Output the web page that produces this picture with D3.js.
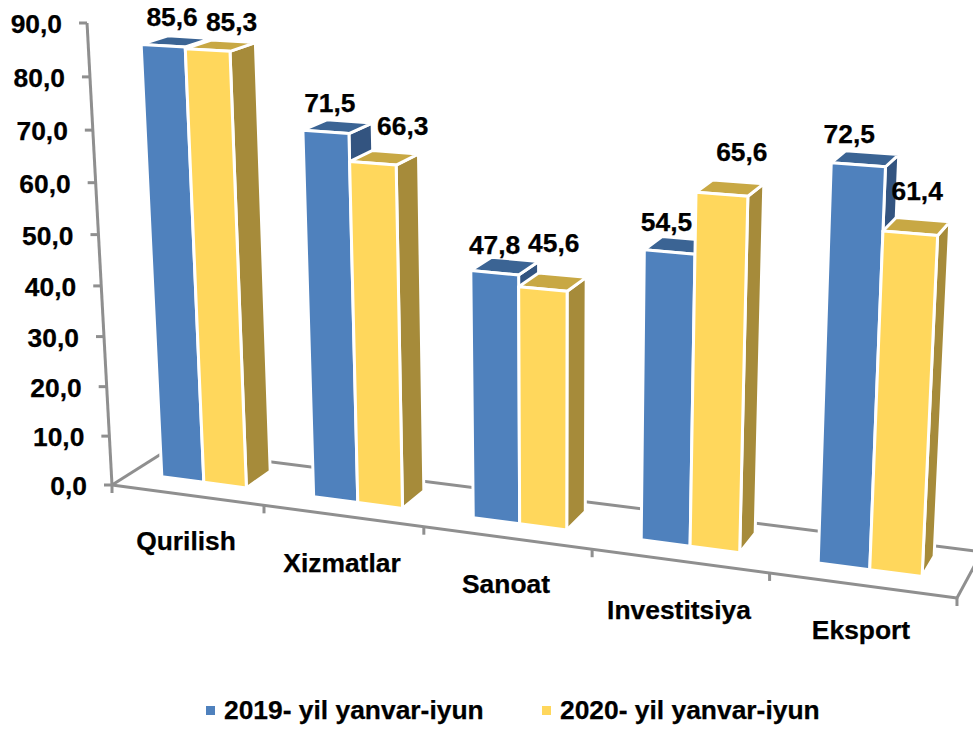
<!DOCTYPE html>
<html><head><meta charset="utf-8">
<script src="https://cdn.jsdelivr.net/npm/d3@7"></script>
<style>html,body{margin:0;padding:0;background:#fff}svg{display:block}
text{font-family:"Liberation Sans",Arial,sans-serif;font-weight:700;font-size:26.4px;fill:#000;stroke:#000;stroke-width:.25px}</style>
</head><body><svg id="c" width="973" height="729"></svg>
<script>
const categories = ["Qurilish","Xizmatlar","Sanoat","Investitsiya","Eksport"];
const seriesNames = ["2019- yil yanvar-iyun","2020- yil yanvar-iyun"];
const values2019 = [85.6,71.5,47.8,54.5,72.5];
const values2020 = [85.3,66.3,45.6,65.6,61.4];
const seriesValues = [values2019,values2020];
const valueDomain = [0,90];
// label displacement from the bar's projected top-centre
const labelShift2019 = [[9,-27],[4,-27],[0,-26],[-3,-28],[-9,-29]];
const labelShift2020 = [[24,-26],[30,-35],[11,-44],[20,-40],[7,-40]];
const labelShifts = [labelShift2019,labelShift2020];
const catLabelCentres = [[186,543],[342,565],[506,586],[679,612],[861,632]];

const palette = [
 {front:"#4f81bd",top:"#3b6494",side:"#335480"},
 {front:"#ffd75c",top:"#c8a844",side:"#a68b3a"}];
const grey="#8f8f8f";

// projective camera: (X along categories, Y value, Z depth) -> screen
const cam={a:[112,145.52,-0.329,64.3],b:[485,7.93,-5.147,-16.6],d:[-0.02453,-0.000594,0.0432]};
function project(X,Y,Z){
  const w=1+cam.d[0]*X+cam.d[1]*Y+cam.d[2]*Z;
  return [(cam.a[0]+cam.a[1]*X+cam.a[2]*Y+cam.a[3]*Z)/w,
          (cam.b[0]+cam.b[1]*X+cam.b[2]*Y+cam.b[3]*Z)/w];
}
const catScale=d3.scaleBand().domain(categories).range([0,5]);
const serScale=d3.scaleBand().domain(d3.range(seriesNames.length)).range([0.207,0.77]);
const yScale=d3.scaleLinear().domain(valueDomain).range([0,90]);
const barScale=d3.scaleLinear().domain(valueDomain).range([0,89.6]);
const zFront=0.33, zBack=0.78;
const line=d3.line();
const svg=d3.select("#c");
const fmt=d3.formatLocale({decimal:",",thousands:" ",grouping:[3],currency:["",""]}).format(".1f");

// floor
const floorEdges=[[[0,0],[5,0]],[[0,0],[0,1]],[[0,1],[5,1]],[[5,0],[5,1]]];
svg.append("g").selectAll("path").data(floorEdges).join("path")
  .attr("d",e=>line(e.map(p=>project(p[0],0,p[1])))).attr("fill","none")
  .attr("stroke",grey).attr("stroke-width",3);
// category ticks
svg.append("g").selectAll("path").data(d3.range(0,6)).join("path")
  .attr("d",i=>{const p=project(i,0,0);return line([p,[p[0],p[1]+8]]);})
  .attr("stroke",grey).attr("stroke-width",3);
// value axis
const ticks=yScale.ticks(9);
svg.append("path").attr("d",line(valueDomain.map(v=>project(0,yScale(v),0))))
  .attr("fill","none").attr("stroke",grey).attr("stroke-width",3);
const tg=svg.append("g").selectAll("g").data(ticks).join("g")
  .attr("transform",v=>`translate(${project(0,yScale(v),0)})`);
tg.append("path").attr("d",line([[-8,0],[0,0]])).attr("stroke",grey).attr("stroke-width",3);
tg.append("text").attr("x",-25).attr("y",3).attr("text-anchor","end")
  .attr("dominant-baseline","middle").text(v=>fmt(v));

// bars
const bars=[];
categories.forEach((c,i)=>seriesNames.forEach((s,k)=>{
  bars.push({c,i,k,v:seriesValues[k][i],x0:catScale(c)+serScale(k),x1:catScale(c)+serScale(k)+serScale.bandwidth()});
}));
const bg=svg.append("g").selectAll("g").data(bars).join("g")
  .attr("stroke","#fff").attr("stroke-width",3).attr("stroke-linejoin","round");
const poly=pts=>line(pts)+"Z";
bg.append("path").attr("fill",d=>palette[d.k].side).attr("d",d=>{const h=barScale(d.v);
  return poly([project(d.x1,0,zFront),project(d.x1,h,zFront),project(d.x1,h,zBack),project(d.x1,0,zBack)]);});
bg.append("path").attr("fill",d=>palette[d.k].top).attr("d",d=>{const h=barScale(d.v);
  return poly([project(d.x0,h,zFront),project(d.x1,h,zFront),project(d.x1,h,zBack),project(d.x0,h,zBack)]);});
bg.append("path").attr("fill",d=>palette[d.k].front).attr("d",d=>{const h=barScale(d.v);
  return poly([project(d.x0,0,zFront),project(d.x1,0,zFront),project(d.x1,h,zFront),project(d.x0,h,zFront)]);});

// value labels
svg.append("g").selectAll("text").data(bars).join("text")
  .attr("text-anchor","middle").attr("dominant-baseline","middle")
  .attr("x",d=>project((d.x0+d.x1)/2,barScale(d.v),zFront)[0]+labelShifts[d.k][d.i][0])
  .attr("y",d=>project((d.x0+d.x1)/2,barScale(d.v),zFront)[1]+labelShifts[d.k][d.i][1])
  .text(d=>fmt(d.v));

// category labels
svg.append("g").selectAll("text").data(categories).join("text")
  .attr("text-anchor","middle").attr("dominant-baseline","middle")
  .attr("x",(c,i)=>catLabelCentres[i][0]).attr("y",(c,i)=>catLabelCentres[i][1]).text(c=>c);

// legend
const legend=svg.append("g").selectAll("g").data(seriesNames).join("g")
  .attr("transform",(s,i)=>`translate(${[206,542][i]},710)`);
legend.append("rect").attr("x",0).attr("y",-4).attr("width",9).attr("height",9).attr("fill",(s,i)=>palette[i].front);
legend.append("text").attr("x",18).attr("y",2).attr("dominant-baseline","middle").text(s=>s);
</script></body></html>
